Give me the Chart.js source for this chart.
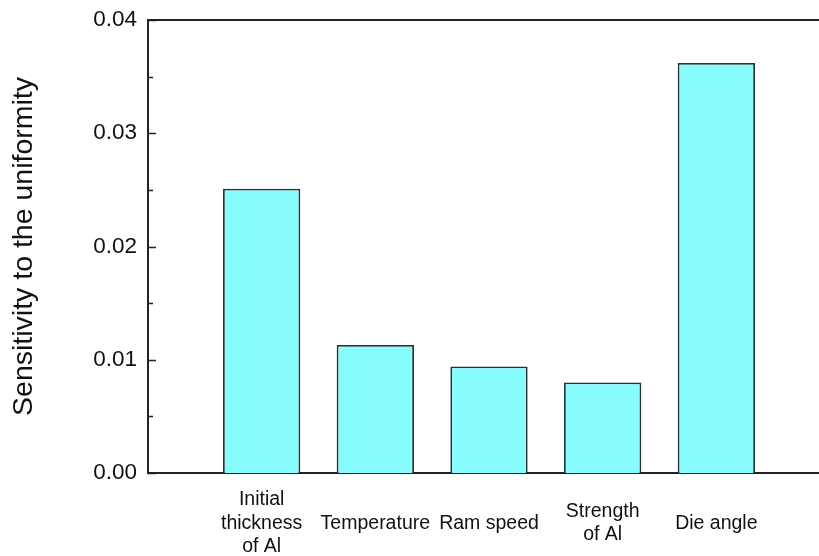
<!DOCTYPE html>
<html>
<head>
<meta charset="utf-8">
<script src="https://cdn.jsdelivr.net/npm/chart.js@4.4.1/dist/chart.umd.min.js"></script>
<style>
  html, body { margin: 0; padding: 0; background: #fff; overflow: hidden; }
  canvas { display: block; }
</style>
</head>
<body>
<canvas id="chart" width="830" height="556"></canvas>
<script>
// factors (blank slots at both ends keep the bars off the frame)
const categories = ['', ['Initial', 'thickness', 'of Al'], 'Temperature', 'Ram speed', ['Strength', 'of Al'], 'Die angle', ''];
const sensitivity = [null, 0.0251, 0.0113, 0.0094, 0.0080, 0.0362, null];

const yMin = 0;
const yMax = 0.04;
const yStep = 0.01;
const yMinorStep = 0.005;

const fontFamily = '"Liberation Sans", Arial, sans-serif';

// top frame line + inward major/minor ticks on the left axis
const frameTicks = {
  id: 'frameTicks',
  afterDraw(chart) {
    const { ctx, chartArea } = chart;
    const y = chart.scales.y;
    ctx.save();
    ctx.strokeStyle = '#222';
    ctx.lineWidth = 2;
    ctx.beginPath();
    ctx.moveTo(chartArea.left, chartArea.top);
    ctx.lineTo(chartArea.right, chartArea.top);
    ctx.stroke();
    ctx.lineWidth = 1.5;
    for (let v = yMin; v <= yMax + 1e-9; v += yMinorStep) {
      const py = Math.round(y.getPixelForValue(v)) + 0.5;
      const major = Math.abs(v / yStep - Math.round(v / yStep)) < 1e-6;
      ctx.beginPath();
      ctx.moveTo(chartArea.left, py);
      ctx.lineTo(chartArea.left + (major ? 8 : 5), py);
      ctx.stroke();
    }
    ctx.restore();
  }
};

const data = {
  labels: categories,
  datasets: [{
    data: sensitivity,
    backgroundColor: '#88fdfd',
    borderColor: '#263333',
    borderWidth: 1.8,
    categoryPercentage: 1,
    barPercentage: 0.68,
  }],
};

const config = {
  type: 'bar',
  data,
  options: {
    responsive: false,
    animation: false,
    layout: { padding: { top: 20, right: 0, bottom: 0, left: 0 } },
    plugins: { legend: { display: false }, tooltip: { enabled: false } },
    scales: {
      x: {
        offset: false,
        grid: { display: false, drawTicks: false },
        border: { display: true, color: '#222', width: 2 },
        ticks: {
          autoSkip: false,
          maxRotation: 0,
          padding: 27,
          crossAlign: 'center',
          color: '#111',
          font: { family: fontFamily, size: 19.5, lineHeight: 1.2 },
        },
        afterFit: s => {
          s.height = 83;
          s.paddingLeft = 0;
          s.paddingRight = 0;
        },
      },
      y: {
        min: yMin,
        max: yMax,
        grid: { display: false, drawTicks: false },
        border: { display: true, color: '#222', width: 2 },
        ticks: {
          stepSize: yStep,
          padding: 11,
          color: '#111',
          font: { family: fontFamily, size: 22.5 },
          callback: v => v.toFixed(2),
        },
        title: {
          display: true,
          text: 'Sensitivity to the uniformity',
          color: '#111',
          font: { family: fontFamily, size: 28.5 },
          padding: { top: 7, bottom: 0 },
        },
        afterFit: s => {
          s.width = 148;
          s.paddingTop = 0;
          s.paddingBottom = 0;
        },
      },
    },
  },
  plugins: [frameTicks],
};

new Chart(document.getElementById('chart'), config);
</script>
</body>
</html>
